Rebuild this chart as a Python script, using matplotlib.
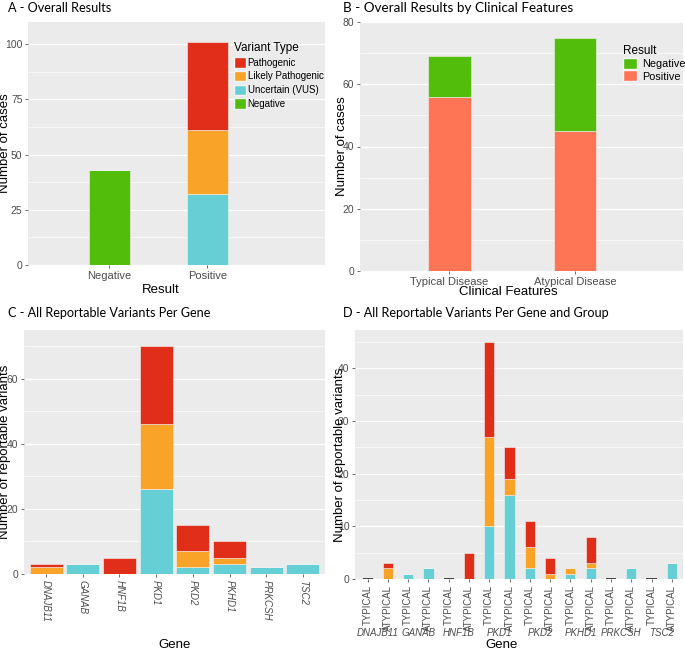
import numpy as np
import matplotlib
matplotlib.use("Agg")
import matplotlib.pyplot as plt
from matplotlib.patches import Patch
from matplotlib.ticker import AutoMinorLocator, MultipleLocator
from matplotlib.transforms import blended_transform_factory

plt.rcParams['font.family'] = ['Liberation Sans', 'DejaVu Sans']

# Panel A - overall results
results = ["Negative", "Positive"]
a_negative = [43, 0]
a_vus = [0, 32]
a_likely = [0, 29]
a_path = [0, 40]

# Panel B - results by clinical features
features = ["Typical Disease", "Atypical Disease"]
b_positive = [56, 45]
b_negative = [13, 30]

# Panel C - variants per gene
genes = ["DNAJB11", "GANAB", "HNF1B", "PKD1", "PKD2", "PKHD1", "PRKCSH", "TSC2"]
c_vus = [0, 3, 0, 26, 2, 3, 2, 3]
c_likely = [2, 0, 0, 20, 5, 2, 0, 0]
c_path = [1, 0, 5, 24, 8, 5, 0, 0]

# Panel D - variants per gene and group
groups = ["TYPICAL", "ATYPICAL"]
d_typ_vus = [0, 1, 0, 10, 2, 1, 0, 0]
d_typ_likely = [0, 0, 0, 17, 4, 1, 0, 0]
d_typ_path = [0, 0, 0, 18, 5, 0, 0, 0]
d_aty_vus = [0, 2, 0, 16, 0, 2, 2, 3]
d_aty_likely = [2, 0, 0, 3, 1, 1, 0, 0]
d_aty_path = [1, 0, 5, 6, 3, 5, 0, 0]

RED = '#E12E19'
ORANGE = '#F9A329'
CYAN = '#66CFD6'
GREEN = '#52BD0A'
SALMON = '#FE7556'
BG = '#EBEBEB'
EDGE = '#F4F4F4'
TITLE_FONT = ['Lato', 'DejaVu Sans']

W, H = 685, 651
fig = plt.figure(figsize=(W / 100, H / 100), dpi=100)


def make_axes(l, t, r, b):
    ax = fig.add_axes([l / W, 1 - b / H, (r - l) / W, (b - t) / H])
    ax._px = (l, t, r, b)
    return ax


def to_axes(ax, px, py):
    l, t, r, b = ax._px
    return (px - l) / (r - l), (b - py) / (b - t)


def labels(ax, xlab, xpos, ylab, ypos):
    ax.set_xlabel(xlab, fontsize=9.5)
    ax.set_ylabel(ylab, fontsize=9.5)
    ax.xaxis.set_label_coords(*to_axes(ax, *xpos))
    ax.yaxis.set_label_coords(*to_axes(ax, *ypos))
    ax.xaxis.label.set_va('center')
    ax.yaxis.label.set_va('center')


def style(ax, step, xsize=8):
    ax.set_facecolor(BG)
    for s in ax.spines.values():
        s.set_visible(False)
    ax.yaxis.set_major_locator(MultipleLocator(step))
    ax.yaxis.set_minor_locator(AutoMinorLocator(2))
    ax.grid(axis='y', which='major', color='white', lw=0.9)
    ax.grid(axis='y', which='minor', color='white', lw=0.45)
    ax.set_axisbelow(True)
    ax.tick_params(colors='#333333', labelcolor='#4D4D4D', length=2.5,
                   width=0.5, pad=1.5)
    ax.tick_params(axis='y', labelsize=7.5)
    ax.tick_params(axis='x', labelsize=xsize)
    ax.tick_params(axis='y', which='minor', length=0)


def stack(ax, x, layers, width):
    bottom = np.zeros(len(x))
    for vals, col in layers:
        vals = np.array(vals, dtype=float)
        ax.bar(x, vals, width, bottom=bottom, color=col,
               edgecolor=EDGE, linewidth=0.4, zorder=2)
        bottom += vals
    return bottom


def title(x, y, txt, size=9.1):
    fig.text(x / W, 1 - y / H, txt, fontsize=size, family=TITLE_FONT,
             va='center', ha='left')


# ---- A ----
axA = make_axes(28, 22, 325, 265)
style(axA, 25)
xa = np.arange(len(results))
stack(axA, xa, [(a_negative, GREEN), (a_vus, CYAN),
                (a_likely, ORANGE), (a_path, RED)], 0.42)
axA.set_xlim(-0.83, 2.2)
axA.set_ylim(0, 110)
axA.set_xticks(xa, results)
labels(axA, "Result", (161, 290), "Number of cases", (5, 143))
legA = axA.legend(handles=[Patch(fc=RED, ec=EDGE, label="Pathogenic"),
                           Patch(fc=ORANGE, ec=EDGE, label="Likely Pathogenic"),
                           Patch(fc=CYAN, ec=EDGE, label="Uncertain (VUS)"),
                           Patch(fc=GREEN, ec=EDGE, label="Negative")],
                  title="Variant Type", loc='upper left',
                  bbox_to_anchor=to_axes(axA, 234, 42), frameon=False,
                  fontsize=7, title_fontsize=8.5, handlelength=1.25,
                  handleheight=1.3, handletextpad=0.15, labelspacing=0.32,
                  borderaxespad=0, borderpad=0)
legA._legend_box.align = 'left'
title(8, 8, "A - Overall Results")

# ---- B ----
axB = make_axes(360, 22, 683, 271)
style(axB, 20)
xb = np.arange(len(features))
stack(axB, xb, [(b_positive, SALMON), (b_negative, GREEN)], 0.34)
axB.set_xlim(-0.71, 1.86)
axB.set_ylim(0, 80)
axB.set_xticks(xb, features)
labels(axB, "Clinical Features", (508, 292), "Number of cases", (342, 146))
legB = axB.legend(handles=[Patch(fc=GREEN, ec=EDGE, label="Negative"),
                           Patch(fc=SALMON, ec=EDGE, label="Positive")],
                  title="Result", loc='upper left',
                  bbox_to_anchor=to_axes(axB, 623, 45), frameon=False,
                  fontsize=7.8, title_fontsize=8.5, handlelength=1.3,
                  handleheight=1.2, handletextpad=0.45, labelspacing=0.1,
                  borderaxespad=0, borderpad=0)
legB._legend_box.align = 'left'
title(343, 8, "B - Overall Results by Clinical Features", size=9.75)

# ---- C ----
axC = make_axes(24, 330, 325, 574)
style(axC, 20, xsize=7)
xc = np.arange(len(genes))
stack(axC, xc, [(c_vus, CYAN), (c_likely, ORANGE), (c_path, RED)], 0.9)
axC.set_xlim(-0.6, len(genes) - 0.4)
axC.set_ylim(0, 75)
axC.set_xticks(xc, genes, rotation=-90, style='italic')
labels(axC, "Gene", (175, 645), "Number of reportable variants", (5, 452))
title(8, 313, "C - All Reportable Variants Per Gene")

# ---- D ----
axD = make_axes(355, 330, 683, 579)
style(axD, 10, xsize=7)
n = len(genes)
xd = np.arange(2 * n)
d_vus = np.ravel(np.column_stack([d_typ_vus, d_aty_vus]))
d_likely = np.ravel(np.column_stack([d_typ_likely, d_aty_likely]))
d_path = np.ravel(np.column_stack([d_typ_path, d_aty_path]))
tot = stack(axD, xd, [(d_vus, CYAN), (d_likely, ORANGE), (d_path, RED)], 0.5)
empty = tot == 0
axD.bar(xd[empty], tot[empty], 0.5, color='none', edgecolor='#333333',
        linewidth=1.3, zorder=3)
axD.set_xlim(-0.62, 2 * n - 0.45)
axD.set_ylim(0, 47.3)
axD.set_xticks(xd, groups * n, rotation=90)
trans = blended_transform_factory(axD.transData, axD.transAxes)
gy = to_axes(axD, 0, 633)[1]
for i, g in enumerate(genes):
    axD.text(2 * i + 0.5, gy, g, transform=trans, ha='center', va='center',
             fontsize=7, style='italic', color='#4D4D4D')
labels(axD, "Gene", (502, 645), "Number of reportable variants", (340, 455))
title(343, 313, "D - All Reportable Variants Per Gene and Group")

fig.savefig("out.png", dpi=100)
